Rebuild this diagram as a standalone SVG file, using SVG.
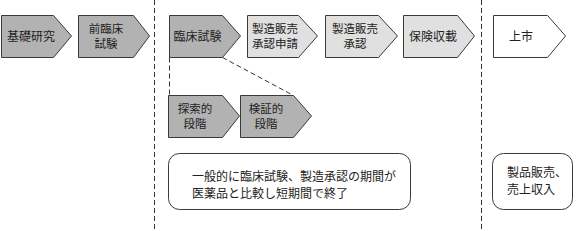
<svg xmlns="http://www.w3.org/2000/svg" width="576" height="231" viewBox="0 0 576 231">
<style>
  .dark{fill:#b2b2b2;stroke:#3a3a3a;stroke-width:1}
  .light{fill:#e0e0e0;stroke:#3a3a3a;stroke-width:1}
  .white{fill:#ffffff;stroke:#3a3a3a;stroke-width:1}
  .note{fill:#ffffff;stroke:#3a3a3a;stroke-width:1}
  text{font-family:"Noto Sans CJK JP","Noto Sans CJK SC",sans-serif;font-size:12px;fill:#222}
  .s{font-size:11.5px}
  .c{text-anchor:middle}
  .dash{fill:none;stroke:#333;stroke-width:1;stroke-dasharray:5,3}
</style>
<rect x="0" y="0" width="576" height="231" fill="#ffffff"/>
<g id="dividers">
  <line class="dash" x1="154.5" y1="0" x2="154.5" y2="231"/>
  <line class="dash" x1="481.5" y1="0" x2="481.5" y2="231"/>
</g>
<g id="connectors">
  <line class="dash" x1="169.5" y1="57.5" x2="169.5" y2="95.5"/>
  <line class="dash" x1="222.5" y1="57.5" x2="293.5" y2="95.5"/>
</g>
<g id="kiso">
  <polygon class="dark" points="1.5,15.5 53.5,15.5 71.5,36 53.5,57.5 1.5,57.5"/>
  <text class="c" x="31" y="40.5">基礎研究</text>
</g>
<g id="zenrinsho">
  <polygon class="dark" points="78.5,15.5 133.5,15.5 149.5,36 133.5,57.5 78.5,57.5"/>
  <text class="c s" x="106" y="32.5">前臨床</text>
  <text class="c s" x="106" y="48">試験</text>
</g>
<g id="rinsho">
  <polygon class="dark" points="169.5,15.5 222.5,15.5 240.5,36 222.5,57.5 169.5,57.5"/>
  <text class="c" x="197.5" y="40.5">臨床試験</text>
</g>
<g id="shinsei">
  <polygon class="light" points="247.5,15.5 298.5,15.5 317.5,36 298.5,57.5 247.5,57.5"/>
  <text class="c s" x="275" y="32.5">製造販売</text>
  <text class="c s" x="275" y="48">承認申請</text>
</g>
<g id="shonin">
  <polygon class="light" points="325.5,15.5 378.5,15.5 397.5,36 378.5,57.5 325.5,57.5"/>
  <text class="c s" x="355" y="32.5">製造販売</text>
  <text class="c s" x="355" y="48">承認</text>
</g>
<g id="hoken">
  <polygon class="light" points="403.5,15.5 457.5,15.5 474.5,36 457.5,57.5 403.5,57.5"/>
  <text class="c" x="433" y="40.5">保険収載</text>
</g>
<g id="joshi">
  <polygon class="white" points="493.5,15.5 547.5,15.5 565.5,36 547.5,57.5 493.5,57.5"/>
  <text class="c" x="521" y="40.5">上市</text>
</g>
<g id="tansaku">
  <polygon class="dark" points="168.5,95.5 222.5,95.5 239.5,116 222.5,137.5 168.5,137.5"/>
  <text class="c s" x="195" y="112.5">探索的</text>
  <text class="c s" x="195" y="128">段階</text>
</g>
<g id="kensho">
  <polygon class="dark" points="240.5,95.5 293.5,95.5 311.5,116 293.5,137.5 240.5,137.5"/>
  <text class="c s" x="266" y="112.5">検証的</text>
  <text class="c s" x="266" y="128">段階</text>
</g>
<g id="note1">
  <rect class="note" x="168.5" y="153.5" width="242" height="56" rx="11" ry="11"/>
  <text x="192" y="181">一般的に臨床試験、製造承認の期間が</text>
  <text x="192" y="198">医薬品と比較し短期間で終了</text>
</g>
<g id="note2">
  <rect class="note" x="492.5" y="153.5" width="80" height="56" rx="11" ry="11"/>
  <text x="507" y="177">製品販売、</text>
  <text x="507" y="194">売上収入</text>
</g>
</svg>
